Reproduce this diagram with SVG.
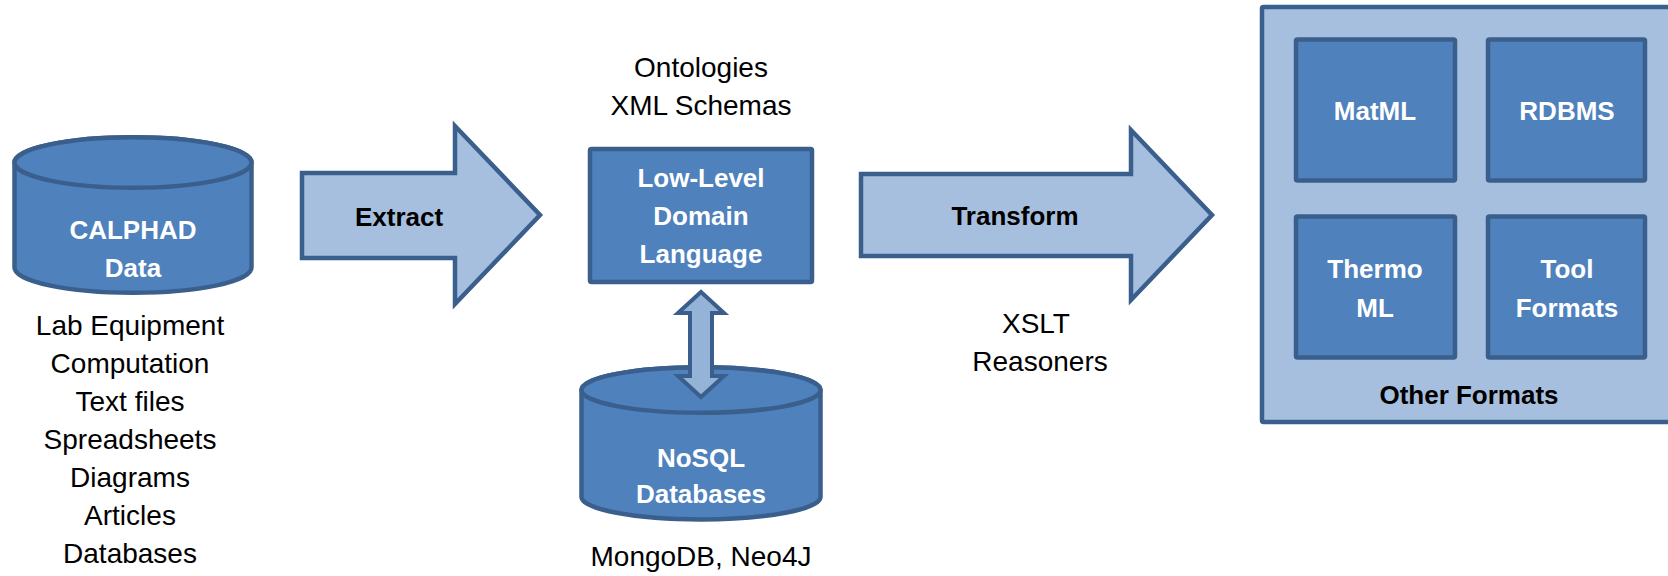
<svg xmlns="http://www.w3.org/2000/svg" width="1668" height="576" viewBox="0 0 1668 576">
  <style>
    .dark { fill: #4F81BD; stroke: #3A5F8D; stroke-width: 4.5; stroke-linejoin: miter; }
    .light { fill: #A7BFDE; stroke: #3A5F8D; stroke-width: 4.5; stroke-linejoin: miter; }
    .lbl { font-family: "Liberation Sans", Arial, sans-serif; font-size: 28px; fill: #000; text-anchor: middle; }
    .in { font-family: "Liberation Sans", Arial, sans-serif; font-size: 26px; font-weight: bold; fill: #FFFFFF; text-anchor: middle; }
    .bk { font-family: "Liberation Sans", Arial, sans-serif; font-size: 26px; font-weight: bold; fill: #000; text-anchor: middle; }
  </style>
  <rect width="1668" height="576" fill="#FFFFFF"/>

  <!-- Source data store -->
  <g id="calphad">
    <path class="dark" d="M14.5,162.5 L14.5,267.5 A118.5,25.25 0 0 0 251.5,267.5 L251.5,162.5 A118.5,25.25 0 0 0 14.5,162.5 Z"/>
    <ellipse class="dark" cx="133" cy="162.5" rx="118.5" ry="25.25"/>
    <text class="in" x="133" y="239">CALPHAD</text>
    <text class="in" x="133" y="277">Data</text>
    <text class="lbl" x="130" y="335">Lab Equipment</text>
    <text class="lbl" x="130" y="373">Computation</text>
    <text class="lbl" x="130" y="411">Text files</text>
    <text class="lbl" x="130" y="449">Spreadsheets</text>
    <text class="lbl" x="130" y="487">Diagrams</text>
    <text class="lbl" x="130" y="525">Articles</text>
    <text class="lbl" x="130" y="563">Databases</text>
  </g>

  <!-- Domain language -->
  <g id="lowlevel">
    <text class="lbl" x="701" y="77">Ontologies</text>
    <text class="lbl" x="701" y="115">XML Schemas</text>
    <rect class="dark" x="590" y="149" width="222" height="133" rx="1.5"/>
    <text class="in" x="701" y="187">Low-Level</text>
    <text class="in" x="701" y="225">Domain</text>
    <text class="in" x="701" y="263">Language</text>
  </g>

  <!-- NoSQL store -->
  <g id="nosql">
    <path class="dark" d="M581.5,390 L581.5,496.7 A119.5,22.75 0 0 0 820.5,496.7 L820.5,390 A119.5,22.75 0 0 0 581.5,390 Z"/>
    <ellipse class="dark" cx="701" cy="390" rx="119.5" ry="22.75"/>
    <text class="in" x="701" y="467">NoSQL</text>
    <text class="in" x="701" y="503">Databases</text>
    <text class="lbl" x="701" y="566">MongoDB, Neo4J</text>
  </g>

  <!-- Target formats -->
  <g id="formats">
    <rect class="light" x="1262" y="7" width="420" height="415" rx="1.5"/>
    <g id="matml">
      <rect class="dark" x="1296" y="39.5" width="159" height="141" rx="1.5"/>
      <text class="in" x="1375" y="120">MatML</text>
    </g>
    <g id="rdbms">
      <rect class="dark" x="1488" y="39.5" width="157" height="141" rx="1.5"/>
      <text class="in" x="1567" y="120">RDBMS</text>
    </g>
    <g id="thermoml">
      <rect class="dark" x="1296" y="216.5" width="159" height="141" rx="1.5"/>
      <text class="in" x="1375" y="278">Thermo</text>
      <text class="in" x="1375" y="317">ML</text>
    </g>
    <g id="toolformats">
      <rect class="dark" x="1488" y="216.5" width="157" height="141" rx="1.5"/>
      <text class="in" x="1567" y="278">Tool</text>
      <text class="in" x="1567" y="317">Formats</text>
    </g>
    <text class="bk" x="1469" y="404">Other Formats</text>
  </g>

  <!-- Connectors -->
  <g id="connectors">
    <g id="extract">
      <polygon class="light" points="302,173 455,173 455,126 540,215 455,304 455,258 302,258"/>
      <text class="bk" x="399" y="226">Extract</text>
    </g>
    <g id="transform">
      <polygon class="light" points="861,174 1131,174 1131,130 1212,215 1131,300 1131,256 861,256"/>
      <text class="bk" x="1015" y="225">Transform</text>
      <text class="lbl" x="1036" y="333">XSLT</text>
      <text class="lbl" x="1040" y="371">Reasoners</text>
    </g>
    <polygon id="store-link" class="light" style="fill:#95B3D7; stroke-width:4" points="701,292 724,313 712,313 712,376 724,376 701,397 678,376 690,376 690,313 678,313"/>
  </g>
</svg>
